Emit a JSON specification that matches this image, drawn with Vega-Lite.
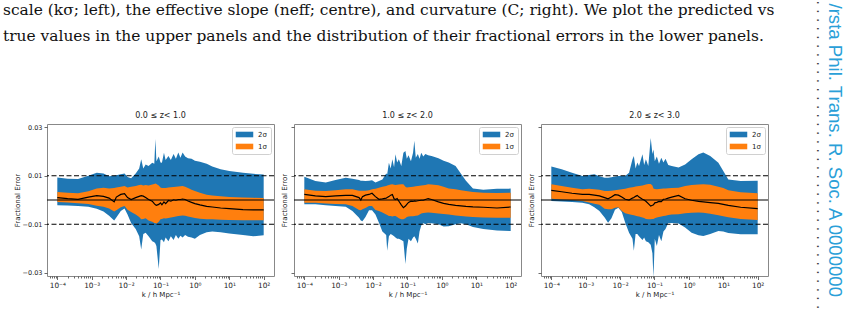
{
"$schema": "https://vega.github.io/schema/vega-lite/v6.json",
"background": "white",
"padding": {"left": 3, "top": 0, "right": 0, "bottom": 0},
"title": {"text": ["scale (kσ; left), the effective slope (neff; centre), and curvature (C; right). We plot the predicted vs", "true values in the upper panels and the distribution of their fractional errors in the lower panels."], "anchor": "start", "frame": "group", "font": "DejaVu Serif", "fontSize": 15.45, "fontWeight": "normal", "lineHeight": 26, "dx": -44, "offset": -44, "color": "#111"},
"datasets": {
"a": [
{"k":0.0001,"hi2":0.0093,"hi1":0.0033,"m":0.0010,"lo1":-0.0008,"lo2":-0.0022},
{"k":0.0002,"hi2":0.0088,"hi1":0.0030,"m":0.0006,"lo1":-0.0010,"lo2":-0.0023},
{"k":0.0004,"hi2":0.0087,"hi1":0.0028,"m":0.0003,"lo1":-0.0013,"lo2":-0.0025},
{"k":0.0008,"hi2":0.0100,"hi1":0.0036,"m":0.0012,"lo1":-0.0017,"lo2":-0.0028},
{"k":0.0014,"hi2":0.0113,"hi1":0.0047,"m":0.0018,"lo1":-0.0024,"lo2":-0.0036},
{"k":0.0022,"hi2":0.0110,"hi1":0.0051,"m":0.0015,"lo1":-0.0028,"lo2":-0.0048},
{"k":0.0032,"hi2":0.0098,"hi1":0.0048,"m":0.0008,"lo1":-0.0035,"lo2":-0.0065},
{"k":0.0045,"hi2":0.0100,"hi1":0.0050,"m":-0.0008,"lo1":-0.0047,"lo2":-0.0085},
{"k":0.0052,"hi2":0.0102,"hi1":0.0052,"m":0.0012,"lo1":-0.0042,"lo2":-0.0072},
{"k":0.007,"hi2":0.0106,"hi1":0.0055,"m":0.0023,"lo1":-0.0030,"lo2":-0.0045},
{"k":0.009,"hi2":0.0110,"hi1":0.0058,"m":0.0026,"lo1":-0.0025,"lo2":-0.0035},
{"k":0.011,"hi2":0.0095,"hi1":0.0052,"m":0.0010,"lo1":-0.0040,"lo2":-0.0060},
{"k":0.014,"hi2":0.0090,"hi1":0.0055,"m":0.0002,"lo1":-0.0050,"lo2":-0.0095},
{"k":0.019,"hi2":0.0110,"hi1":0.0058,"m":0.0010,"lo1":-0.0060,"lo2":-0.0120},
{"k":0.024,"hi2":0.0130,"hi1":0.0062,"m":0.0015,"lo1":-0.0070,"lo2":-0.0150},
{"k":0.0275,"hi2":0.0168,"hi1":0.0063,"m":0.0018,"lo1":-0.0080,"lo2":-0.0205},
{"k":0.0316,"hi2":0.0130,"hi1":0.0060,"m":0.0016,"lo1":-0.0078,"lo2":-0.0140},
{"k":0.037,"hi2":0.0147,"hi1":0.0062,"m":0.0010,"lo1":-0.0075,"lo2":-0.0135},
{"k":0.045,"hi2":0.0140,"hi1":0.0060,"m":0.0002,"lo1":-0.0085,"lo2":-0.0150},
{"k":0.0575,"hi2":0.0154,"hi1":0.0064,"m":-0.0005,"lo1":-0.0090,"lo2":-0.0170},
{"k":0.066,"hi2":0.0150,"hi1":0.0066,"m":-0.0015,"lo1":-0.0095,"lo2":-0.0175},
{"k":0.071,"hi2":0.0252,"hi1":0.0068,"m":-0.0020,"lo1":-0.0095,"lo2":-0.0180},
{"k":0.076,"hi2":0.0160,"hi1":0.0066,"m":-0.0022,"lo1":-0.0098,"lo2":-0.0190},
{"k":0.089,"hi2":0.0180,"hi1":0.0060,"m":-0.0018,"lo1":-0.0090,"lo2":-0.0285},
{"k":0.1,"hi2":0.0155,"hi1":0.0052,"m":-0.0012,"lo1":-0.0080,"lo2":-0.0165},
{"k":0.11,"hi2":0.0154,"hi1":0.0050,"m":-0.0020,"lo1":-0.0078,"lo2":-0.0163},
{"k":0.126,"hi2":0.0195,"hi1":0.0050,"m":-0.0008,"lo1":-0.0075,"lo2":-0.0175},
{"k":0.141,"hi2":0.0165,"hi1":0.0050,"m":-0.0015,"lo1":-0.0076,"lo2":-0.0155},
{"k":0.17,"hi2":0.0182,"hi1":0.0052,"m":-0.0002,"lo1":-0.0074,"lo2":-0.0170},
{"k":0.2,"hi2":0.0165,"hi1":0.0053,"m":-0.0005,"lo1":-0.0072,"lo2":-0.0150},
{"k":0.24,"hi2":0.0190,"hi1":0.0054,"m":0.0001,"lo1":-0.0070,"lo2":-0.0165},
{"k":0.28,"hi2":0.0170,"hi1":0.0055,"m":-0.0001,"lo1":-0.0068,"lo2":-0.0145},
{"k":0.33,"hi2":0.0196,"hi1":0.0056,"m":0.0002,"lo1":-0.0066,"lo2":-0.0160},
{"k":0.38,"hi2":0.0175,"hi1":0.0057,"m":0.0002,"lo1":-0.0065,"lo2":-0.0148},
{"k":0.44,"hi2":0.0196,"hi1":0.0058,"m":0.0004,"lo1":-0.0064,"lo2":-0.0155},
{"k":0.52,"hi2":0.0180,"hi1":0.0055,"m":0.0002,"lo1":-0.0065,"lo2":-0.0145},
{"k":0.63,"hi2":0.0172,"hi1":0.0050,"m":-0.0004,"lo1":-0.0068,"lo2":-0.0152},
{"k":0.8,"hi2":0.0170,"hi1":0.0042,"m":-0.0010,"lo1":-0.0071,"lo2":-0.0155},
{"k":1,"hi2":0.0162,"hi1":0.0037,"m":-0.0015,"lo1":-0.0074,"lo2":-0.0160},
{"k":1.4,"hi2":0.0158,"hi1":0.0030,"m":-0.0020,"lo1":-0.0077,"lo2":-0.0145},
{"k":2.2,"hi2":0.0150,"hi1":0.0022,"m":-0.0026,"lo1":-0.0080,"lo2":-0.0133},
{"k":3.2,"hi2":0.0138,"hi1":0.0019,"m":-0.0029,"lo1":-0.0080,"lo2":-0.0130},
{"k":5.6,"hi2":0.0127,"hi1":0.0015,"m":-0.0033,"lo1":-0.0082,"lo2":-0.0133},
{"k":10,"hi2":0.0120,"hi1":0.0012,"m":-0.0036,"lo1":-0.0083,"lo2":-0.0138},
{"k":25,"hi2":0.0113,"hi1":0.0010,"m":-0.0040,"lo1":-0.0084,"lo2":-0.0145},
{"k":50,"hi2":0.0108,"hi1":0.0009,"m":-0.0041,"lo1":-0.0084,"lo2":-0.0150},
{"k":100,"hi2":0.0105,"hi1":0.0008,"m":-0.0041,"lo1":-0.0084,"lo2":-0.0146}
],
"b": [
{"k":0.0001,"hi2":0.0096,"hi1":0.0044,"m":0.0023,"lo1":-0.0011,"lo2":-0.0018},
{"k":0.00021,"hi2":0.0079,"hi1":0.0038,"m":0.0017,"lo1":-0.0011,"lo2":-0.0018},
{"k":0.00042,"hi2":0.0072,"hi1":0.0037,"m":0.0014,"lo1":-0.0014,"lo2":-0.0022},
{"k":0.00081,"hi2":0.0083,"hi1":0.0040,"m":0.0017,"lo1":-0.0017,"lo2":-0.0025},
{"k":0.0016,"hi2":0.0092,"hi1":0.0044,"m":0.0019,"lo1":-0.0018,"lo2":-0.0028},
{"k":0.0025,"hi2":0.0088,"hi1":0.0044,"m":0.0019,"lo1":-0.0025,"lo2":-0.0045},
{"k":0.0039,"hi2":0.0083,"hi1":0.0038,"m":0.0010,"lo1":-0.0041,"lo2":-0.0073},
{"k":0.0044,"hi2":0.0080,"hi1":0.0038,"m":0.0000,"lo1":-0.0042,"lo2":-0.0085},
{"k":0.0049,"hi2":0.0080,"hi1":0.0038,"m":0.0014,"lo1":-0.0038,"lo2":-0.0088},
{"k":0.006,"hi2":0.0079,"hi1":0.0038,"m":0.0020,"lo1":-0.0033,"lo2":-0.0070},
{"k":0.0076,"hi2":0.0080,"hi1":0.0040,"m":0.0023,"lo1":-0.0025,"lo2":-0.0042},
{"k":0.0093,"hi2":0.0082,"hi1":0.0044,"m":0.0028,"lo1":-0.0025,"lo2":-0.0042},
{"k":0.0117,"hi2":0.0072,"hi1":0.0046,"m":0.0014,"lo1":-0.0041,"lo2":-0.0060},
{"k":0.0148,"hi2":0.0078,"hi1":0.0051,"m":0.0003,"lo1":-0.0045,"lo2":-0.0094},
{"k":0.0186,"hi2":0.0085,"hi1":0.0055,"m":0.0005,"lo1":-0.0052,"lo2":-0.0130},
{"k":0.024,"hi2":0.0110,"hi1":0.0058,"m":0.0008,"lo1":-0.0060,"lo2":-0.0145},
{"k":0.0257,"hi2":0.0106,"hi1":0.0060,"m":0.0010,"lo1":-0.0062,"lo2":-0.0210},
{"k":0.0288,"hi2":0.0154,"hi1":0.0062,"m":0.0014,"lo1":-0.0066,"lo2":-0.0150},
{"k":0.0324,"hi2":0.0130,"hi1":0.0064,"m":0.0020,"lo1":-0.0066,"lo2":-0.0140},
{"k":0.0363,"hi2":0.0168,"hi1":0.0065,"m":0.0023,"lo1":-0.0068,"lo2":-0.0145},
{"k":0.0407,"hi2":0.0135,"hi1":0.0063,"m":0.0005,"lo1":-0.0066,"lo2":-0.0150},
{"k":0.0447,"hi2":0.0189,"hi1":0.0062,"m":0.0002,"lo1":-0.0066,"lo2":-0.0155},
{"k":0.05,"hi2":0.0155,"hi1":0.0063,"m":0.0006,"lo1":-0.0070,"lo2":-0.0160},
{"k":0.0562,"hi2":0.0168,"hi1":0.0064,"m":-0.0005,"lo1":-0.0075,"lo2":-0.0160},
{"k":0.066,"hi2":0.0140,"hi1":0.0065,"m":-0.0020,"lo1":-0.0080,"lo2":-0.0165},
{"k":0.076,"hi2":0.0195,"hi1":0.0065,"m":-0.0032,"lo1":-0.0080,"lo2":-0.0170},
{"k":0.087,"hi2":0.0202,"hi1":0.0055,"m":-0.0025,"lo1":-0.0075,"lo2":-0.0264},
{"k":0.0955,"hi2":0.0170,"hi1":0.0052,"m":-0.0018,"lo1":-0.0070,"lo2":-0.0200},
{"k":0.107,"hi2":0.0185,"hi1":0.0053,"m":-0.0010,"lo1":-0.0068,"lo2":-0.0160},
{"k":0.126,"hi2":0.0160,"hi1":0.0054,"m":-0.0005,"lo1":-0.0067,"lo2":-0.0170},
{"k":0.145,"hi2":0.0195,"hi1":0.0055,"m":-0.0006,"lo1":-0.0067,"lo2":-0.0155},
{"k":0.158,"hi2":0.0245,"hi1":0.0056,"m":-0.0004,"lo1":-0.0066,"lo2":-0.0150},
{"k":0.174,"hi2":0.0175,"hi1":0.0057,"m":-0.0005,"lo1":-0.0065,"lo2":-0.0160},
{"k":0.2,"hi2":0.0190,"hi1":0.0058,"m":-0.0003,"lo1":-0.0064,"lo2":-0.0180},
{"k":0.224,"hi2":0.0170,"hi1":0.0059,"m":-0.0002,"lo1":-0.0060,"lo2":-0.0130},
{"k":0.251,"hi2":0.0195,"hi1":0.0060,"m":-0.0001,"lo1":-0.0056,"lo2":-0.0105},
{"k":0.288,"hi2":0.0180,"hi1":0.0061,"m":-0.0001,"lo1":-0.0054,"lo2":-0.0095},
{"k":0.331,"hi2":0.0190,"hi1":0.0062,"m":0.0002,"lo1":-0.0053,"lo2":-0.0100},
{"k":0.398,"hi2":0.0185,"hi1":0.0065,"m":0.0006,"lo1":-0.0052,"lo2":-0.0095},
{"k":0.5,"hi2":0.0182,"hi1":0.0064,"m":0.0002,"lo1":-0.0053,"lo2":-0.0096},
{"k":0.794,"hi2":0.0172,"hi1":0.0061,"m":-0.0008,"lo1":-0.0056,"lo2":-0.0100},
{"k":1.12,"hi2":0.0162,"hi1":0.0055,"m":-0.0014,"lo1":-0.0058,"lo2":-0.0110},
{"k":1.58,"hi2":0.0155,"hi1":0.0048,"m":-0.0018,"lo1":-0.0060,"lo2":-0.0108},
{"k":2.5,"hi2":0.0140,"hi1":0.0044,"m":-0.0022,"lo1":-0.0064,"lo2":-0.0100},
{"k":3.55,"hi2":0.0110,"hi1":0.0040,"m":-0.0024,"lo1":-0.0066,"lo2":-0.0096},
{"k":5,"hi2":0.0080,"hi1":0.0037,"m":-0.0026,"lo1":-0.0068,"lo2":-0.0100},
{"k":8,"hi2":0.0048,"hi1":0.0033,"m":-0.0028,"lo1":-0.0070,"lo2":-0.0112},
{"k":16,"hi2":0.0042,"hi1":0.0030,"m":-0.0030,"lo1":-0.0072,"lo2":-0.0120},
{"k":40,"hi2":0.0046,"hi1":0.0029,"m":-0.0033,"lo1":-0.0073,"lo2":-0.0126},
{"k":100,"hi2":0.0047,"hi1":0.0030,"m":-0.0029,"lo1":-0.0073,"lo2":-0.0128}
],
"c": [
{"k":0.0001,"hi2":0.0138,"hi1":0.0065,"m":0.0040,"lo1":0.0005,"lo2":-0.0004},
{"k":0.0002,"hi2":0.0127,"hi1":0.0058,"m":0.0034,"lo1":0.0002,"lo2":-0.0006},
{"k":0.0004,"hi2":0.0113,"hi1":0.0051,"m":0.0028,"lo1":0.0000,"lo2":-0.0008},
{"k":0.0008,"hi2":0.0099,"hi1":0.0044,"m":0.0023,"lo1":-0.0004,"lo2":-0.0011},
{"k":0.00126,"hi2":0.0103,"hi1":0.0046,"m":0.0023,"lo1":-0.0010,"lo2":-0.0018},
{"k":0.00178,"hi2":0.0106,"hi1":0.0044,"m":0.0020,"lo1":-0.0015,"lo2":-0.0030},
{"k":0.0025,"hi2":0.0098,"hi1":0.0042,"m":0.0017,"lo1":-0.0020,"lo2":-0.0045},
{"k":0.00355,"hi2":0.0092,"hi1":0.0037,"m":0.0010,"lo1":-0.0036,"lo2":-0.0072},
{"k":0.00447,"hi2":0.0092,"hi1":0.0037,"m":0.0005,"lo1":-0.0038,"lo2":-0.0094},
{"k":0.0056,"hi2":0.0094,"hi1":0.0038,"m":0.0012,"lo1":-0.0038,"lo2":-0.0075},
{"k":0.0071,"hi2":0.0097,"hi1":0.0040,"m":0.0022,"lo1":-0.0032,"lo2":-0.0040},
{"k":0.0089,"hi2":0.0099,"hi1":0.0042,"m":0.0020,"lo1":-0.0030,"lo2":-0.0032},
{"k":0.0112,"hi2":0.0099,"hi1":0.0044,"m":0.0012,"lo1":-0.0045,"lo2":-0.0050},
{"k":0.0141,"hi2":0.0099,"hi1":0.0046,"m":0.0003,"lo1":-0.0055,"lo2":-0.0094},
{"k":0.0182,"hi2":0.0113,"hi1":0.0051,"m":0.0000,"lo1":-0.0059,"lo2":-0.0135},
{"k":0.0229,"hi2":0.0168,"hi1":0.0053,"m":0.0008,"lo1":-0.0062,"lo2":-0.0160},
{"k":0.0251,"hi2":0.0182,"hi1":0.0054,"m":0.0010,"lo1":-0.0063,"lo2":-0.0210},
{"k":0.0282,"hi2":0.0130,"hi1":0.0056,"m":0.0015,"lo1":-0.0065,"lo2":-0.0140},
{"k":0.0316,"hi2":0.0155,"hi1":0.0057,"m":0.0019,"lo1":-0.0067,"lo2":-0.0140},
{"k":0.0355,"hi2":0.0140,"hi1":0.0058,"m":0.0012,"lo1":-0.0068,"lo2":-0.0150},
{"k":0.0447,"hi2":0.0189,"hi1":0.0060,"m":0.0003,"lo1":-0.0072,"lo2":-0.0165},
{"k":0.05,"hi2":0.0145,"hi1":0.0062,"m":0.0000,"lo1":-0.0074,"lo2":-0.0155},
{"k":0.0562,"hi2":0.0168,"hi1":0.0064,"m":-0.0005,"lo1":-0.0078,"lo2":-0.0170},
{"k":0.066,"hi2":0.0140,"hi1":0.0066,"m":-0.0015,"lo1":-0.0080,"lo2":-0.0175},
{"k":0.0776,"hi2":0.0256,"hi1":0.0066,"m":-0.0025,"lo1":-0.0080,"lo2":-0.0185},
{"k":0.087,"hi2":0.0190,"hi1":0.0060,"m":-0.0022,"lo1":-0.0078,"lo2":-0.0220},
{"k":0.0933,"hi2":0.0209,"hi1":0.0048,"m":-0.0020,"lo1":-0.0078,"lo2":-0.0320},
{"k":0.102,"hi2":0.0160,"hi1":0.0045,"m":-0.0012,"lo1":-0.0075,"lo2":-0.0160},
{"k":0.117,"hi2":0.0180,"hi1":0.0044,"m":-0.0010,"lo1":-0.0072,"lo2":-0.0190},
{"k":0.135,"hi2":0.0150,"hi1":0.0045,"m":-0.0006,"lo1":-0.0070,"lo2":-0.0145},
{"k":0.158,"hi2":0.0175,"hi1":0.0046,"m":-0.0007,"lo1":-0.0068,"lo2":-0.0170},
{"k":0.182,"hi2":0.0155,"hi1":0.0047,"m":0.0003,"lo1":-0.0066,"lo2":-0.0130},
{"k":0.209,"hi2":0.0170,"hi1":0.0048,"m":0.0004,"lo1":-0.0065,"lo2":-0.0120},
{"k":0.251,"hi2":0.0145,"hi1":0.0049,"m":0.0008,"lo1":-0.0062,"lo2":-0.0095},
{"k":0.316,"hi2":0.0140,"hi1":0.0050,"m":0.0012,"lo1":-0.0060,"lo2":-0.0095},
{"k":0.5,"hi2":0.0134,"hi1":0.0051,"m":0.0019,"lo1":-0.0059,"lo2":-0.0097},
{"k":0.776,"hi2":0.0147,"hi1":0.0058,"m":0.0005,"lo1":-0.0055,"lo2":-0.0114},
{"k":1.2,"hi2":0.0168,"hi1":0.0062,"m":-0.0001,"lo1":-0.0053,"lo2":-0.0135},
{"k":1.9,"hi2":0.0189,"hi1":0.0064,"m":-0.0006,"lo1":-0.0052,"lo2":-0.0146},
{"k":2.63,"hi2":0.0196,"hi1":0.0065,"m":-0.0008,"lo1":-0.0053,"lo2":-0.0149},
{"k":4.17,"hi2":0.0182,"hi1":0.0063,"m":-0.0011,"lo1":-0.0057,"lo2":-0.0140},
{"k":7.2,"hi2":0.0154,"hi1":0.0055,"m":-0.0014,"lo1":-0.0063,"lo2":-0.0128},
{"k":10,"hi2":0.0120,"hi1":0.0050,"m":-0.0018,"lo1":-0.0067,"lo2":-0.0130},
{"k":14,"hi2":0.0085,"hi1":0.0040,"m":-0.0022,"lo1":-0.0071,"lo2":-0.0136},
{"k":32,"hi2":0.0079,"hi1":0.0032,"m":-0.0030,"lo1":-0.0078,"lo2":-0.0142},
{"k":100,"hi2":0.0080,"hi1":0.0028,"m":-0.0036,"lo1":-0.0083,"lo2":-0.0142}
],
"dash": [{"v": 0.01}, {"v": -0.01}],
"zero": [{"v": 0}]
},
"spacing": 20,
"bounds": "flush",
"resolve": {"scale": {"fill": "independent"}, "legend": {"fill": "independent"}},
"hconcat": [
{
"width": 227, "height": 152,
"title": "0.0  ≤ z<  1.0",
"layer": [
{"data": {"name": "a"}, "mark": {"type": "area", "clip": true},
 "encoding": {
  "x": {"field": "k", "type": "quantitative", "scale": {"type": "log", "domain": [0.000050119, 199.53], "nice": false},
        "axis": {"values": [0.00006,0.00007,0.00008,0.00009,0.0001,0.0002,0.0003,0.0004,0.0005,0.0006,0.0007,0.0008,0.0009,0.001,0.002,0.003,0.004,0.005,0.006,0.007,0.008,0.009,0.01,0.02,0.03,0.04,0.05,0.06,0.07,0.08,0.09,0.1,0.2,0.3,0.4,0.5,0.6,0.7,0.8,0.9,1,2,3,4,5,6,7,8,9,10,20,30,40,50,60,70,80,90,100], "labelExpr": "abs(log(datum.value)/LN10 - round(log(datum.value)/LN10)) < 0.01 ? ['10⁻⁴','10⁻³','10⁻²','10⁻¹','10⁰','10¹','10²'][round(log(datum.value)/LN10)+4] : ''", "tickSize": {"condition": {"test": "abs(log(datum.value)/LN10 - round(log(datum.value)/LN10)) < 0.01", "value": 3.5}, "value": 2}, "labelOverlap": false, "labelFlush": false, "labelFontSize": 7.3, "title": "k / h Mpc⁻¹", "titlePadding": 2}},
  "y": {"field": "lo2", "type": "quantitative", "scale": {"domain": [-0.0314, 0.0314], "nice": false, "zero": false},
        "axis": {"values": [-0.03, -0.02, -0.01, 0, 0.01, 0.02, 0.03], "format": ".2f", "tickSize": 3, "title": "Fractional Error", "titlePadding": 2}},
  "y2": {"field": "hi2"},
  "fill": {"datum": "2σ", "type": "nominal", "scale": {"domain": ["2σ", "1σ"], "range": ["#1f77b4", "#ff7f0e"]}, "legend": {"title": null}}
 }},
{"data": {"name": "a"}, "mark": {"type": "area", "clip": true},
 "encoding": {
  "x": {"field": "k", "type": "quantitative"},
  "y": {"field": "lo1", "type": "quantitative"},
  "y2": {"field": "hi1"},
  "fill": {"datum": "1σ", "type": "nominal"}
 }},
{"data": {"name": "a"}, "mark": {"type": "line", "color": "black", "strokeWidth": 1.2, "clip": true},
 "encoding": {"x": {"field": "k", "type": "quantitative"}, "y": {"field": "m", "type": "quantitative"}}},
{"data": {"name": "dash"}, "mark": {"type": "rule", "color": "black", "strokeDash": [5, 2.5], "strokeWidth": 1.1},
 "encoding": {"y": {"field": "v", "type": "quantitative"}}},
{"data": {"name": "zero"}, "mark": {"type": "rule", "color": "black", "strokeWidth": 1.1},
 "encoding": {"y": {"field": "v", "type": "quantitative"}}}
]
},
{
"width": 227, "height": 152,
"title": "1.0  ≤ z<  2.0",
"layer": [
{"data": {"name": "b"}, "mark": {"type": "area", "clip": true},
 "encoding": {
  "x": {"field": "k", "type": "quantitative", "scale": {"type": "log", "domain": [0.000050119, 199.53], "nice": false},
        "axis": {"values": [0.00006,0.00007,0.00008,0.00009,0.0001,0.0002,0.0003,0.0004,0.0005,0.0006,0.0007,0.0008,0.0009,0.001,0.002,0.003,0.004,0.005,0.006,0.007,0.008,0.009,0.01,0.02,0.03,0.04,0.05,0.06,0.07,0.08,0.09,0.1,0.2,0.3,0.4,0.5,0.6,0.7,0.8,0.9,1,2,3,4,5,6,7,8,9,10,20,30,40,50,60,70,80,90,100], "labelExpr": "abs(log(datum.value)/LN10 - round(log(datum.value)/LN10)) < 0.01 ? ['10⁻⁴','10⁻³','10⁻²','10⁻¹','10⁰','10¹','10²'][round(log(datum.value)/LN10)+4] : ''", "tickSize": {"condition": {"test": "abs(log(datum.value)/LN10 - round(log(datum.value)/LN10)) < 0.01", "value": 3.5}, "value": 2}, "labelOverlap": false, "labelFlush": false, "labelFontSize": 7.3, "title": "k / h Mpc⁻¹", "titlePadding": 2}},
  "y": {"field": "lo2", "type": "quantitative", "scale": {"domain": [-0.0314, 0.0314], "nice": false, "zero": false},
        "axis": {"values": [-0.03, -0.02, -0.01, 0, 0.01, 0.02, 0.03], "labels": false, "tickSize": 3, "title": "Fractional Error", "titlePadding": 3}},
  "y2": {"field": "hi2"},
  "fill": {"datum": "2σ", "type": "nominal", "scale": {"domain": ["2σ", "1σ"], "range": ["#1f77b4", "#ff7f0e"]}, "legend": {"title": null}}
 }},
{"data": {"name": "b"}, "mark": {"type": "area", "clip": true},
 "encoding": {
  "x": {"field": "k", "type": "quantitative"},
  "y": {"field": "lo1", "type": "quantitative"},
  "y2": {"field": "hi1"},
  "fill": {"datum": "1σ", "type": "nominal"}
 }},
{"data": {"name": "b"}, "mark": {"type": "line", "color": "black", "strokeWidth": 1.2, "clip": true},
 "encoding": {"x": {"field": "k", "type": "quantitative"}, "y": {"field": "m", "type": "quantitative"}}},
{"data": {"name": "dash"}, "mark": {"type": "rule", "color": "black", "strokeDash": [5, 2.5], "strokeWidth": 1.1},
 "encoding": {"y": {"field": "v", "type": "quantitative"}}},
{"data": {"name": "zero"}, "mark": {"type": "rule", "color": "black", "strokeWidth": 1.1},
 "encoding": {"y": {"field": "v", "type": "quantitative"}}}
]
},
{
"width": 227, "height": 152,
"title": "2.0  ≤ z<  3.0",
"layer": [
{"data": {"name": "c"}, "mark": {"type": "area", "clip": true},
 "encoding": {
  "x": {"field": "k", "type": "quantitative", "scale": {"type": "log", "domain": [0.000050119, 199.53], "nice": false},
        "axis": {"values": [0.00006,0.00007,0.00008,0.00009,0.0001,0.0002,0.0003,0.0004,0.0005,0.0006,0.0007,0.0008,0.0009,0.001,0.002,0.003,0.004,0.005,0.006,0.007,0.008,0.009,0.01,0.02,0.03,0.04,0.05,0.06,0.07,0.08,0.09,0.1,0.2,0.3,0.4,0.5,0.6,0.7,0.8,0.9,1,2,3,4,5,6,7,8,9,10,20,30,40,50,60,70,80,90,100], "labelExpr": "abs(log(datum.value)/LN10 - round(log(datum.value)/LN10)) < 0.01 ? ['10⁻⁴','10⁻³','10⁻²','10⁻¹','10⁰','10¹','10²'][round(log(datum.value)/LN10)+4] : ''", "tickSize": {"condition": {"test": "abs(log(datum.value)/LN10 - round(log(datum.value)/LN10)) < 0.01", "value": 3.5}, "value": 2}, "labelOverlap": false, "labelFlush": false, "labelFontSize": 7.3, "title": "k / h Mpc⁻¹", "titlePadding": 2}},
  "y": {"field": "lo2", "type": "quantitative", "scale": {"domain": [-0.0314, 0.0314], "nice": false, "zero": false},
        "axis": {"values": [-0.03, -0.02, -0.01, 0, 0.01, 0.02, 0.03], "labels": false, "tickSize": 3, "title": "Fractional Error", "titlePadding": 3}},
  "y2": {"field": "hi2"},
  "fill": {"datum": "2σ", "type": "nominal", "scale": {"domain": ["2σ", "1σ"], "range": ["#1f77b4", "#ff7f0e"]}, "legend": {"title": null}}
 }},
{"data": {"name": "c"}, "mark": {"type": "area", "clip": true},
 "encoding": {
  "x": {"field": "k", "type": "quantitative"},
  "y": {"field": "lo1", "type": "quantitative"},
  "y2": {"field": "hi1"},
  "fill": {"datum": "1σ", "type": "nominal"}
 }},
{"data": {"name": "c"}, "mark": {"type": "line", "color": "black", "strokeWidth": 1.2, "clip": true},
 "encoding": {"x": {"field": "k", "type": "quantitative"}, "y": {"field": "m", "type": "quantitative"}}},
{"data": {"name": "dash"}, "mark": {"type": "rule", "color": "black", "strokeDash": [5, 2.5], "strokeWidth": 1.1},
 "encoding": {"y": {"field": "v", "type": "quantitative"}}},
{"data": {"name": "zero"}, "mark": {"type": "rule", "color": "black", "strokeWidth": 1.1},
 "encoding": {"y": {"field": "v", "type": "quantitative"}}}
]
},
{
"width": 1, "height": 152,
"view": {"stroke": null},
"data": {"name": "zero"},
"mark": {"type": "rule", "opacity": 0},
"encoding": {
 "x": {"field": "v", "type": "quantitative", "axis": {"domain": false, "ticks": false, "labels": false, "grid": false, "title": "/rsta Phil. Trans. R. Soc. A 0000000", "titleFont": "Liberation Sans", "titleFontSize": 18.6, "titleFontWeight": "normal", "titleColor": "#2a9fd8", "titleAngle": 90, "titleAlign": "left", "titleBaseline": "alphabetic", "titleX": 40, "titleY": -273, "titleLimit": 1000}},
 "y": {"field": "v", "type": "quantitative", "axis": {"domain": false, "ticks": false, "labels": false, "grid": false, "title": ". . . . . . . . . . . . . . . . . . . . . . . . . . . . . . . . . . . .", "titleFont": "DejaVu Sans", "titleFontSize": 13.7, "titleFontWeight": "normal", "titleColor": "#444", "titleAngle": 90, "titleAlign": "left", "titleBaseline": "alphabetic", "titleX": 28, "titleY": -124, "titleLimit": 1000}}
}
}
],
"config": {
 "font": "DejaVu Sans",
 "view": {"stroke": "#888", "strokeWidth": 1},
 "title": {"font": "DejaVu Sans", "fontSize": 8, "fontWeight": "normal", "color": "#222", "offset": 4},
 "axis": {"labelFont": "DejaVu Sans", "labelFontSize": 6.5, "labelColor": "#222", "titleFont": "DejaVu Sans", "titleFontSize": 7, "titleFontWeight": "normal", "titleColor": "#222", "tickColor": "#444", "tickWidth": 0.8, "domain": false, "grid": false, "labelPadding": 2},
 "legend": {"orient": "top-right", "offset": 3, "padding": 4, "strokeColor": "#d0d0d0", "fillColor": "white", "cornerRadius": 2, "labelFont": "DejaVu Sans", "labelFontSize": 7, "labelColor": "#222", "symbolType": "M-2.5,-0.8H2.5V0.8H-2.5Z", "symbolSize": 49, "symbolStrokeWidth": 0, "symbolOpacity": 1, "symbolOffset": 5, "rowPadding": 4, "labelOffset": 10}
}
}
